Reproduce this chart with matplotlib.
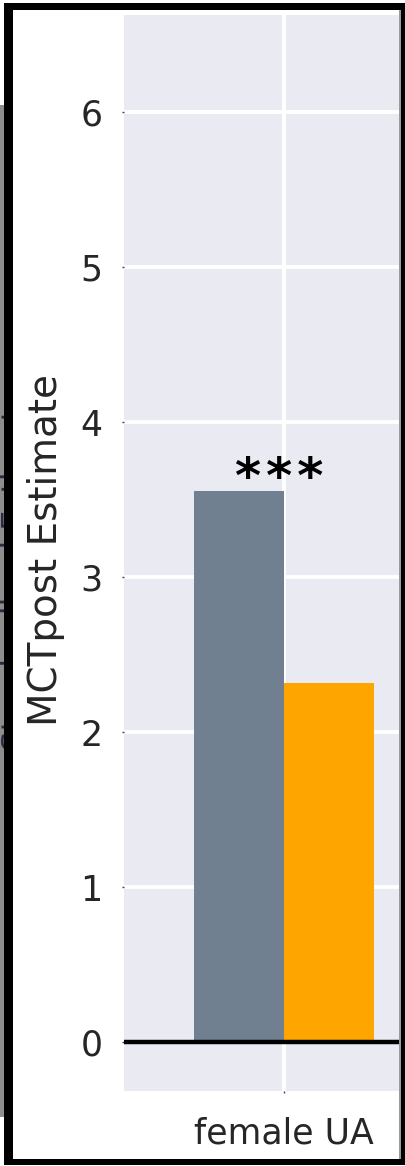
import matplotlib
matplotlib.use("Agg")
import matplotlib.pyplot as plt
from matplotlib.patches import Rectangle
from matplotlib.transforms import Bbox, TransformedBbox

# data
categories = ["female UA"]
group_a = [3.555]     # grey bar
group_b = [2.316]     # orange bar
stars = ["*\u200a*\u200a*"]
yticks = [0, 1, 2, 3, 4, 5, 6]

W, H = 406, 1166
fig = plt.figure(figsize=(W / 100, H / 100), dpi=100, facecolor="white")
plt.rcParams["font.family"] = ["DejaVu Sans"]

def fx(x):
    return x / W

def fy(y):
    return 1 - y / H

# leftover strip of a neighbouring panel, mostly hidden behind the frame
fig.add_artist(Rectangle((0, fy(1117)), fx(4.5), (1117 - 105) / H,
                         transform=fig.transFigure, color="#8e8e8e", lw=0, zorder=1))
hidden = fig.text(fx(1), fy(575), "z-Standardized Estimates", rotation=90,
                  ha="left", va="center", fontsize=23, color="#2a2a40", zorder=2)
hidden.set_clip_box(TransformedBbox(Bbox.from_extents(0, fy(1117), fx(4.5), fy(105)),
                                    fig.transFigure))
hidden.set_clip_on(True)

ax = fig.add_axes([fx(124), fy(1091), 320 / W, 1076 / H], zorder=3)
ax.set_facecolor("#EAEAF2")
for s in ax.spines.values():
    s.set_visible(False)

x = list(range(len(categories)))
w = 0.28
ax.bar([i - w / 2 for i in x], group_a, width=w, color="#708090", lw=0, zorder=2)
ax.bar([i + w / 2 for i in x], group_b, width=w, color="#FFA500", lw=0, zorder=2)
for i, s in enumerate(stars):
    top = max(group_a[i], group_b[i])
    ax.text(i - 0.015, top - 0.01, s, ha="center", va="baseline", fontsize=36,
            fontweight="bold", color="black", zorder=4)

ax.axhline(0, color="black", lw=3.2, zorder=3)

ax.set_xlim(-0.5, 0.5)
ax.set_ylim(-0.316, 6.626)
ax.set_yticks(yticks)
ax.set_xticks(x)
ax.set_xticklabels(categories)
ax.grid(True, color="white", lw=2.8, zorder=0)
ax.set_axisbelow(True)
ax.tick_params(axis="both", length=1.5, width=1, color="#444444",
               labelsize=25, labelcolor="#262626")
ax.tick_params(axis="y", pad=14)
ax.tick_params(axis="x", pad=17)
ax.set_ylabel("MCTpost Estimate", fontsize=28, color="#262626")
ax.yaxis.set_label_coords(-0.185, 0.503)

# black frame drawn over everything
frame = [
    (4.5, 3, 13, 1165),     # left
    (4.5, 3, 406, 10),      # top
    (401, 3, 406, 1165),    # right
    (4.5, 1159, 406, 1165), # bottom
]
for x0, y0, x1, y1 in frame:
    fig.add_artist(Rectangle((fx(x0), fy(y1)), fx(x1) - fx(x0), (y1 - y0) / H,
                             transform=fig.transFigure, color="black", lw=0, zorder=10))
fig.add_artist(Rectangle((fx(399.5), fy(1159)), fx(1.5), (1159 - 10) / H,
                         transform=fig.transFigure, color="#9a9a9a", lw=0, zorder=9))

fig.savefig("out.png", dpi=100, facecolor="white")
